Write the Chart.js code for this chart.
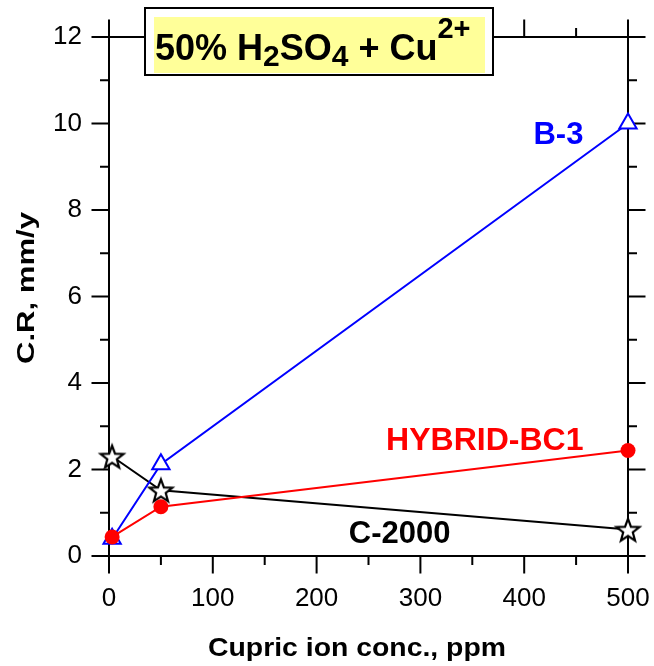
<!DOCTYPE html>
<html>
<head>
<meta charset="utf-8">
<script src="https://cdn.jsdelivr.net/npm/chart.js@4.4.0/dist/chart.umd.min.js"></script>
<style>
  html, body { margin: 0; padding: 0; background: #fff; }
  #wrap { width: 654px; height: 666px; }
</style>
</head>
<body>
<div id="wrap"><canvas id="crChart" width="654" height="666"></canvas></div>
<script>
// values
const concentrations = [3, 50, 500];          // ppm Cu2+
const b3Rates = [0.4, 2.12, 10.0];            // mm/y
const hybridRates = [0.44, 1.14, 2.44];
const c2000Rates = [2.3, 1.52, 0.61];
const xTicks = [0, 100, 200, 300, 400, 500];
const yTicks = [0, 2, 4, 6, 8, 10, 12];

const FONT = '"Liberation Sans", Arial, Helvetica, sans-serif';

function toPoints(ys) {
  return concentrations.map((c, i) => ({ x: c, y: ys[i] }));
}

// open five-pointed star used as marker for C-2000
function makeStar(r) {
  const size = Math.ceil(2 * r + 6);
  const c = document.createElement('canvas');
  c.width = size; c.height = size;
  const g = c.getContext('2d');
  const cx = size / 2, cy = size / 2 + r * 0.1;
  g.beginPath();
  for (let i = 0; i < 10; i++) {
    const rad = i % 2 === 0 ? r : r * 0.42;
    const a = -Math.PI / 2 + i * Math.PI / 5;
    const px = cx + Math.cos(a) * rad, py = cy + Math.sin(a) * rad;
    if (i === 0) g.moveTo(px, py); else g.lineTo(px, py);
  }
  g.closePath();
  g.fillStyle = '#fff';
  g.fill();
  g.lineWidth = 2.2;
  g.lineJoin = 'miter';
  g.strokeStyle = '#000';
  g.stroke();
  return c;
}

function stretchedText(ctx, text, x, y, font, width, angle) {
  ctx.save();
  ctx.font = font;
  const w = ctx.measureText(text).width;
  ctx.translate(x, y);
  ctx.rotate(angle);
  ctx.scale(width / w, 1);
  ctx.textAlign = 'center';
  ctx.textBaseline = 'alphabetic';
  ctx.fillStyle = '#000';
  ctx.fillText(text, 0, 0);
  ctx.restore();
}

const seriesLabels = [
  { text: 'B-3', x: 433, y: 9.53, color: '#0000ff', size: 31 },
  { text: 'HYBRID-BC1', x: 362, y: 2.46, color: '#ff0000', size: 32 },
  { text: 'C-2000', x: 280, y: 0.31, color: '#000000', size: 31 }
];

function noEdgePadding(s) {
  s.paddingLeft = 0; s.paddingRight = 0;
  s.paddingTop = 0; s.paddingBottom = 0;
}

const framePlugin = {
  id: 'frame',
  beforeDatasetsDraw(chart) {
    const { ctx, chartArea: a, scales: { x, y } } = chart;
    const major = 17.5, minor = 9;
    ctx.save();
    ctx.strokeStyle = '#000';
    ctx.lineWidth = 2;
    ctx.beginPath();
    ctx.rect(a.left, a.top, a.right - a.left, a.bottom - a.top);

    const xs = x.ticks.map(t => t.value);
    xs.forEach((v, i) => {
      const p = x.getPixelForValue(v);
      ctx.moveTo(p, a.bottom); ctx.lineTo(p, a.bottom + major);
      ctx.moveTo(p, a.top); ctx.lineTo(p, a.top - major);
      if (i < xs.length - 1) {
        const m = x.getPixelForValue((v + xs[i + 1]) / 2);
        ctx.moveTo(m, a.bottom); ctx.lineTo(m, a.bottom + minor);
        ctx.moveTo(m, a.top); ctx.lineTo(m, a.top - minor);
      }
    });
    const ys = y.ticks.map(t => t.value);
    ys.forEach((v, i) => {
      const p = y.getPixelForValue(v);
      ctx.moveTo(a.left, p); ctx.lineTo(a.left - major, p);
      ctx.moveTo(a.right, p); ctx.lineTo(a.right + major, p);
      if (i < ys.length - 1) {
        const m = y.getPixelForValue((v + ys[i + 1]) / 2);
        ctx.moveTo(a.left, m); ctx.lineTo(a.left - minor, m);
        ctx.moveTo(a.right, m); ctx.lineTo(a.right + minor, m);
      }
    });
    ctx.stroke();
    ctx.restore();
  },
  afterDatasetsDraw(chart) {
    const { ctx, scales: { x, y } } = chart;
    ctx.save();

    // series names
    ctx.textAlign = 'center';
    ctx.textBaseline = 'alphabetic';
    seriesLabels.forEach(l => {
      ctx.font = 'bold ' + l.size + 'px ' + FONT;
      ctx.fillStyle = l.color;
      ctx.fillText(l.text, x.getPixelForValue(l.x), y.getPixelForValue(l.y));
    });

    // title box
    ctx.fillStyle = '#fff';
    ctx.fillRect(145, 8, 348, 67);
    ctx.fillStyle = '#ffff99';
    ctx.fillRect(154, 17, 331, 56);
    ctx.strokeStyle = '#000';
    ctx.lineWidth = 2;
    ctx.strokeRect(145, 8, 348, 67);

    const parts = [
      { t: '50% H', s: 36, dy: 0 },
      { t: '2', s: 30, dy: 6 },
      { t: 'SO', s: 36, dy: 0 },
      { t: '4', s: 30, dy: 6 },
      { t: ' + Cu', s: 36, dy: 0 },
      { t: '2+', s: 29, dy: -22 }
    ];
    ctx.fillStyle = '#000';
    ctx.textAlign = 'left';
    let tx = 155;
    parts.forEach(p => {
      ctx.font = 'bold ' + p.s + 'px ' + FONT;
      ctx.fillText(p.t, tx, 59.5 + p.dy);
      tx += ctx.measureText(p.t).width;
    });
    ctx.restore();

    // axis titles
    stretchedText(ctx, 'Cupric ion conc., ppm', 357, 656, 'bold 25px ' + FONT, 298, 0);
    stretchedText(ctx, 'C.R, mm/y', 34, 288, 'bold 23px ' + FONT, 152, -Math.PI / 2);
  }
};

const tickFont = { family: FONT, size: 26 };

new Chart(document.getElementById('crChart'), {
  type: 'line',
  data: {
    datasets: [
      {
        label: 'HYBRID-BC1',
        data: toPoints(hybridRates),
        borderColor: '#ff0000',
        backgroundColor: '#ff0000',
        borderWidth: 2,
        pointRadius: 7.5,
        pointBorderWidth: 0,
        pointStyle: 'circle',
        clip: false
      },
      {
        label: 'B-3',
        data: toPoints(b3Rates),
        borderColor: '#0000ff',
        backgroundColor: '#ffffff',
        borderWidth: 2,
        pointRadius: 10,
        pointBorderWidth: 2,
        pointStyle: 'triangle',
        clip: false
      },
      {
        label: 'C-2000',
        data: toPoints(c2000Rates),
        borderColor: '#000000',
        backgroundColor: '#ffffff',
        borderWidth: 2,
        pointStyle: makeStar(12),
        clip: false
      }
    ]
  },
  options: {
    responsive: false,
    animation: false,
    layout: { padding: { top: 37, right: 26, bottom: 0, left: 0 } },
    plugins: {
      legend: { display: false },
      tooltip: { enabled: false }
    },
    scales: {
      x: {
        type: 'linear',
        min: 0,
        max: 500,
        afterBuildTicks: s => { s.ticks = xTicks.map(v => ({ value: v })); },
        afterFit: s => { s.height = 110; noEdgePadding(s); },
        grid: { display: false, drawTicks: false },
        border: { display: false },
        ticks: { font: tickFont, color: '#000', padding: 27, maxRotation: 0 }
      },
      y: {
        type: 'linear',
        min: 0,
        max: 12,
        afterBuildTicks: s => { s.ticks = yTicks.map(v => ({ value: v })); },
        afterFit: s => { s.width = 109; noEdgePadding(s); },
        grid: { display: false, drawTicks: false },
        border: { display: false },
        ticks: { font: tickFont, color: '#000', padding: 27 }
      }
    }
  },
  plugins: [framePlugin]
});
</script>
</body>
</html>
